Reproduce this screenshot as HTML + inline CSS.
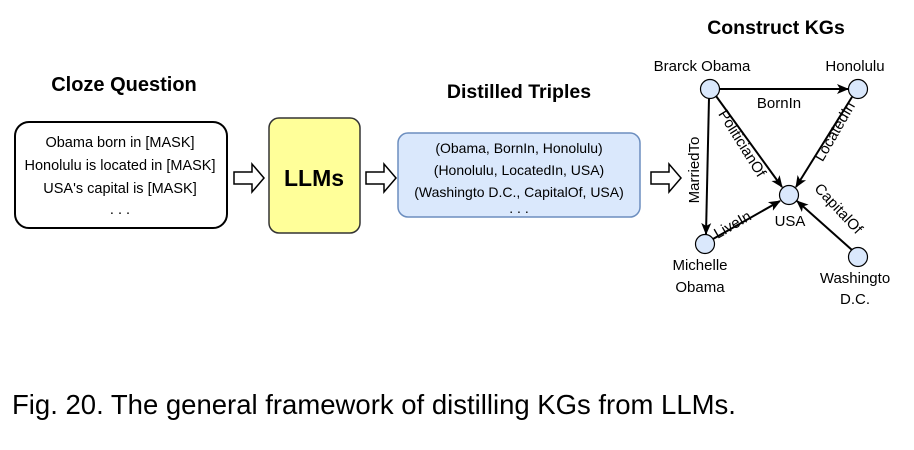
<!DOCTYPE html>
<html><head><style>body{margin:0;background:#fff}svg{display:block}text{font-family:"Liberation Sans",Arial,sans-serif}</style></head>
<body>
<svg width="914" height="450" viewBox="0 0 914 450" xmlns="http://www.w3.org/2000/svg">
<defs><marker id="a" markerWidth="12" markerHeight="12" refX="11" refY="6" orient="auto" markerUnits="userSpaceOnUse"><path d="M0,1 L12,6 L0,11 L3,6 Z" fill="#000"/></marker></defs>
<text x="124" y="91" font-size="20" font-weight="bold" text-anchor="middle">Cloze Question</text>
<rect x="15" y="122" width="212" height="106" rx="14" fill="#fff" stroke="#000" stroke-width="2"/>
<g font-size="14.5" text-anchor="middle">
<text x="120" y="147">Obama born in [MASK]</text>
<text x="120" y="170">Honolulu is located in [MASK]</text>
<text x="120" y="193">USA's capital is [MASK]</text>
<text x="120" y="214">. . .</text>
</g>
<path d="M234,172 h18 v-8 l12,14 l-12,14 v-8 h-18 z" fill="#fff" stroke="#000" stroke-width="1.5"/>
<rect x="269" y="118" width="91" height="115" rx="10" fill="#ffff99" stroke="#333" stroke-width="1.5"/>
<text x="314" y="186" font-size="23" font-weight="bold" text-anchor="middle">LLMs</text>
<path d="M366,172 h18 v-8 l12,14 l-12,14 v-8 h-18 z" fill="#fff" stroke="#000" stroke-width="1.5"/>
<text x="519" y="98" font-size="19.5" font-weight="bold" text-anchor="middle">Distilled Triples</text>
<rect x="398" y="133" width="242" height="84" rx="10" fill="#dae8fc" stroke="#6c8ebf" stroke-width="1.5"/>
<g font-size="14" text-anchor="middle">
<text x="519" y="153">(Obama, BornIn, Honolulu)</text>
<text x="519" y="175">(Honolulu, LocatedIn, USA)</text>
<text x="519" y="197">(Washingto D.C., CapitalOf, USA)</text>
<text x="519" y="213">. . .</text>
</g>
<path d="M651,172 h18 v-8 l12,14 l-12,14 v-8 h-18 z" fill="#fff" stroke="#000" stroke-width="1.5"/>
<text x="776" y="34" font-size="19.5" font-weight="bold" text-anchor="middle">Construct KGs</text>
<g stroke="#000" stroke-width="2" fill="none" marker-end="url(#a)">
<line x1="719" y1="89" x2="848" y2="89"/>
<line x1="709" y1="98" x2="706" y2="234"/>
<line x1="716" y1="96" x2="782" y2="187"/>
<line x1="852" y1="97" x2="796" y2="187"/>
<line x1="713" y1="239" x2="780" y2="201"/>
<line x1="852" y1="250" x2="797" y2="201"/>
</g>
<g fill="#dae8fc" stroke="#000" stroke-width="1.2">
<circle cx="710" cy="89" r="9.5"/><circle cx="858" cy="89" r="9.5"/><circle cx="789" cy="195" r="9.5"/><circle cx="705" cy="244" r="9.5"/><circle cx="858" cy="257" r="9.5"/>
</g>
<g font-size="15" text-anchor="middle">
<text x="702" y="71">Brarck Obama</text>
<text x="855" y="71">Honolulu</text>
<text x="790" y="226">USA</text>
<text x="700" y="270">Michelle</text>
<text x="700" y="292">Obama</text>
<text x="855" y="283">Washingto</text>
<text x="855" y="304">D.C.</text>
<text x="779" y="108">BornIn</text>
<text transform="translate(699,170) rotate(-90)">MarriedTo</text>
<text transform="translate(738,146) rotate(58)">PoliticianOf</text>
<text transform="translate(839,134) rotate(-60)">LocatedIn</text>
<text transform="translate(735,229) rotate(-30)">LiveIn</text>
<text transform="translate(835,212) rotate(47)">CapitalOf</text>
</g>
<text x="12" y="414" font-size="27.5">Fig. 20. The general framework of distilling KGs from LLMs.</text>
</svg>
</body></html>
